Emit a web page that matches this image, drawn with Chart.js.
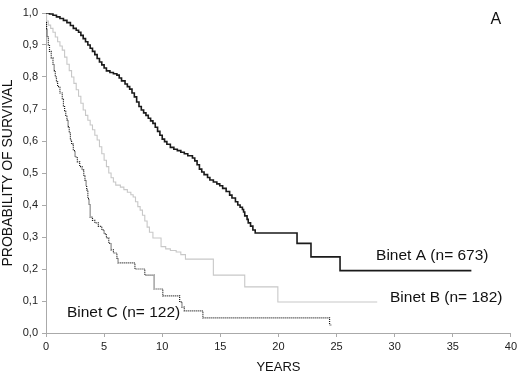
<!DOCTYPE html>
<html>
<head>
<meta charset="utf-8">
<script src="https://cdn.jsdelivr.net/npm/chart.js@4"></script>
<style>
 body { margin: 0; background: #fff; }
</style>
</head>
<body>
<canvas id="c" width="520" height="377"></canvas>
<script>
// Kaplan-Meier steps (years, survival)
const timesA = [0, 0.3, 0.6, 0.9, 1.2, 1.5, 1.8, 2.1, 2.35, 2.6, 2.8, 3.0, 3.2, 3.4, 3.6, 3.8, 4.0, 4.2, 4.4, 4.6, 4.8, 5.0, 5.2, 5.5, 5.8, 6.1, 6.3, 6.5, 6.8, 7.0, 7.2, 7.4, 7.6, 7.8, 8.0, 8.2, 8.4, 8.6, 8.8, 9.0, 9.2, 9.4, 9.6, 9.8, 10.0, 10.2, 10.4, 10.7, 11.0, 11.3, 11.6, 11.9, 12.2, 12.6, 12.8, 13.0, 13.2, 13.4, 13.6, 13.9, 14.1, 14.4, 14.7, 14.95, 15.2, 15.5, 15.8, 16.0, 16.3, 16.5, 16.7, 16.9, 17.0, 17.1, 17.3, 17.4, 17.6, 17.8, 18.0, 21.6, 22.8, 25.3, 36.6];
const survA  = [1.0, 0.997, 0.993, 0.988, 0.983, 0.977, 0.970, 0.961, 0.952, 0.946, 0.940, 0.930, 0.920, 0.910, 0.900, 0.890, 0.880, 0.870, 0.858, 0.847, 0.838, 0.828, 0.819, 0.814, 0.810, 0.806, 0.797, 0.788, 0.778, 0.770, 0.762, 0.750, 0.738, 0.722, 0.708, 0.697, 0.688, 0.680, 0.671, 0.663, 0.655, 0.643, 0.630, 0.618, 0.606, 0.598, 0.590, 0.580, 0.574, 0.570, 0.565, 0.560, 0.554, 0.547, 0.538, 0.526, 0.512, 0.503, 0.495, 0.486, 0.478, 0.472, 0.466, 0.460, 0.452, 0.442, 0.431, 0.422, 0.410, 0.400, 0.393, 0.386, 0.378, 0.366, 0.355, 0.344, 0.334, 0.322, 0.3125, 0.28, 0.238, 0.195, 0.195];

const timesB = [0, 0.05, 0.2, 0.4, 0.6, 0.8, 1.0, 1.2, 1.4, 1.6, 1.8, 2.0, 2.2, 2.4, 2.6, 2.8, 3.0, 3.2, 3.4, 3.6, 3.8, 4.0, 4.2, 4.4, 4.6, 4.8, 5.0, 5.2, 5.4, 5.6, 5.8, 6.0, 6.4, 6.7, 7.0, 7.3, 7.5, 7.7, 7.9, 8.1, 8.3, 8.5, 8.7, 8.9, 9.2, 9.9, 10.3, 10.7, 11.2, 11.6, 12.0, 14.4, 17.1, 19.95, 28.5];
const survB  = [1.0, 0.975, 0.962, 0.952, 0.94, 0.925, 0.91, 0.897, 0.884, 0.862, 0.84, 0.82, 0.80, 0.78, 0.76, 0.74, 0.718, 0.697, 0.68, 0.665, 0.65, 0.635, 0.618, 0.603, 0.582, 0.56, 0.54, 0.52, 0.50, 0.485, 0.472, 0.462, 0.456, 0.448, 0.44, 0.432, 0.425, 0.41, 0.395, 0.384, 0.368, 0.35, 0.331, 0.315, 0.297, 0.27, 0.263, 0.258, 0.253, 0.245, 0.231, 0.181, 0.144, 0.097, 0.097];

const timesC = [0, 0.05, 0.1, 0.2, 0.3, 0.45, 0.6, 0.7, 0.8, 0.9, 1.0, 1.2, 1.4, 1.5, 1.6, 1.7, 1.8, 1.9, 2.0, 2.1, 2.2, 2.35, 2.5, 2.7, 2.9, 3.1, 3.25, 3.35, 3.45, 3.5, 3.6, 3.7, 3.8, 4.0, 4.2, 4.5, 4.8, 5.0, 5.2, 5.4, 5.6, 5.8, 6.1, 6.2, 7.65, 8.5, 9.3, 10.05, 11.5, 11.7, 11.9, 13.5, 24.4, 24.6];
const survC  = [0.97, 0.95, 0.925, 0.90, 0.88, 0.86, 0.84, 0.82, 0.80, 0.785, 0.77, 0.75, 0.73, 0.71, 0.695, 0.68, 0.666, 0.645, 0.625, 0.603, 0.59, 0.57, 0.55, 0.535, 0.52, 0.51, 0.49, 0.478, 0.46, 0.447, 0.42, 0.40, 0.362, 0.352, 0.344, 0.333, 0.322, 0.31, 0.297, 0.28, 0.26, 0.25, 0.234, 0.219, 0.2, 0.181, 0.1375, 0.116, 0.097, 0.081, 0.069, 0.047, 0.025, 0.025];

// text labels in data coords
const labelText = ['Binet A (n= 673)', 'Binet B (n= 182)', 'Binet C (n= 122)', 'A'];
const labelX = [28.4, 29.6, 1.8, 38.7];
const labelY = [0.24, 0.109, 0.0625, 0.978];

const FONT = '"Liberation Sans", Arial, sans-serif';

function pts(t, s) {
 return t.map((x, i) => ({x: x, y: s[i]}));
}

// draws the curve labels and panel letter
const labelPlugin = {
 id: 'labels',
 afterDraw(chart) {
  const ctx = chart.ctx;
  const xs = chart.scales.x, ys = chart.scales.y;
  ctx.save();
  ctx.fillStyle = '#111';
  ctx.textBaseline = 'middle';
  labelText.forEach((t, i) => {
   const last = i == 3;
   ctx.font = (last ? '16px ' : '15.5px ') + FONT;
   ctx.textAlign = last ? 'center' : 'left';
   ctx.fillText(t, xs.getPixelForValue(labelX[i]), ys.getPixelForValue(labelY[i]));
  });
  ctx.restore();
 }
};

const axisGrid = {
 display: true,
 drawOnChartArea: false,
 drawTicks: true,
 tickLength: 4,
 color: '#aaa'
};

new Chart(document.getElementById('c'), {
 type: 'line',
 data: {
  datasets: [
   {
    label: 'Binet A',
    data: pts(timesA, survA),
    borderColor: '#1a1a1a',
    borderWidth: 1.6,
    stepped: true,
    pointRadius: 0,
    fill: false
   },
   {
    label: 'Binet B',
    data: pts(timesB, survB),
    borderColor: '#c8c8c8',
    borderWidth: 1.1,
    stepped: true,
    pointRadius: 0,
    fill: false
   },
   {
    label: 'Binet C',
    data: pts(timesC, survC),
    borderColor: '#1a1a1a',
    borderWidth: 1.2,
    borderDash: [1, 1],
    stepped: true,
    pointRadius: 0,
    fill: false
   }
  ]
 },
 options: {
  responsive: false,
  animation: false,
  layout: { padding: { left: 0, right: 9, top: 13, bottom: 0 } },
  plugins: { legend: { display: false }, tooltip: { enabled: false } },
  scales: {
   x: {
    type: 'linear',
    min: 0, max: 40,
    grid: axisGrid,
    border: { display: true, color: '#aaa' },
    ticks: { stepSize: 5, color: '#222', font: { family: FONT, size: 11 }, padding: 3, maxRotation: 0 },
    title: { display: true, text: 'YEARS', color: '#111', font: { family: FONT, size: 13 }, padding: { top: 0, bottom: 2 } },
    afterFit(s) { s.height = 44; }
   },
   y: {
    min: 0, max: 1,
    grid: axisGrid,
    border: { display: true, color: '#aaa' },
    ticks: {
     stepSize: 0.1, color: '#222', font: { family: FONT, size: 11 }, padding: 4,
     callback: v => v.toFixed(1).replace('.', ',')
    },
    title: { display: true, text: 'PROBABILITY OF SURVIVAL', color: '#111', font: { family: FONT, size: 14 }, padding: { top: 0, bottom: 0 } },
    afterFit(s) { s.width = 46; }
   }
  }
 },
 plugins: [labelPlugin]
});
</script>
</body>
</html>
